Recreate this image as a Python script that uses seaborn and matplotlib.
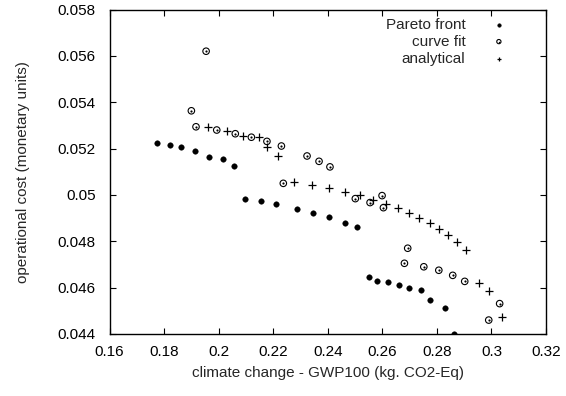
import numpy as np
import pandas as pd
import matplotlib
matplotlib.use('Agg')
import matplotlib.pyplot as plt
import seaborn as sns
from matplotlib.ticker import MultipleLocator, FuncFormatter
from matplotlib.legend_handler import HandlerTuple

# Pareto front points
pareto_x = [0.1774, 0.1822, 0.1861, 0.1915, 0.1966, 0.2017, 0.2056, 0.2096, 0.2157, 0.2210,
            0.2286, 0.2347, 0.2404, 0.2464, 0.2506, 0.2550, 0.2582, 0.2621, 0.2660, 0.2699,
            0.2743, 0.2775, 0.2828, 0.2863]
pareto_y = [0.05224, 0.05217, 0.05206, 0.05188, 0.05162, 0.05154, 0.05125, 0.04984, 0.04973, 0.04961,
            0.04941, 0.04923, 0.04906, 0.04880, 0.04860, 0.04645, 0.04630, 0.04624, 0.04610, 0.04599,
            0.04589, 0.04548, 0.04512, 0.04401]

# curve fit points
fit_x = [0.1954, 0.1900, 0.1917, 0.1993, 0.2061, 0.2120, 0.2177, 0.2230, 0.2237, 0.2324,
         0.2368, 0.2408, 0.2501, 0.2555, 0.2599, 0.2604, 0.2693, 0.2681, 0.2752, 0.2807,
         0.2858, 0.2902, 0.3030, 0.2990]
fit_y = [0.05620, 0.05363, 0.05294, 0.05280, 0.05264, 0.05249, 0.05231, 0.05211, 0.05050, 0.05168,
         0.05145, 0.05121, 0.04984, 0.04967, 0.04997, 0.04945, 0.04770, 0.04705, 0.04690, 0.04675,
         0.04653, 0.04627, 0.04531, 0.04460]

# analytical points
ana_x = [0.1961, 0.2030, 0.2090, 0.2147, 0.2178, 0.2218, 0.2275, 0.2343, 0.2406, 0.2464,
         0.2518, 0.2567, 0.2614, 0.2659, 0.2699, 0.2736, 0.2774, 0.2809, 0.2842, 0.2874,
         0.2906, 0.2953, 0.2992, 0.3040]
ana_y = [0.05294, 0.05277, 0.05256, 0.05249, 0.05206, 0.05168, 0.05056, 0.05042, 0.05030, 0.05013,
         0.04998, 0.04978, 0.04962, 0.04942, 0.04923, 0.04902, 0.04880, 0.04854, 0.04826, 0.04797,
         0.04761, 0.04621, 0.04587, 0.04472]

sns.set_style('ticks')
plt.rcParams['font.family'] = ['Liberation Sans', 'DejaVu Sans']
fs = 11

fig = plt.figure(figsize=(5.66, 3.96), dpi=100)
ax = fig.add_axes([0.1935, 0.1566, 0.7712, 0.8194])

pareto = pd.DataFrame({'x': pareto_x, 'y': pareto_y})
fit = pd.DataFrame({'x': fit_x, 'y': fit_y})
ana = pd.DataFrame({'x': ana_x, 'y': ana_y})

sns.scatterplot(data=pareto, x='x', y='y', ax=ax, marker='o', s=16, color='black',
                edgecolor='black', linewidth=0.3)
sns.scatterplot(data=fit, x='x', y='y', ax=ax, marker='o', s=22, facecolor='none',
                edgecolor='black', linewidth=0.8)
sns.scatterplot(data=fit, x='x', y='y', ax=ax, marker='o', s=2.5, color='black', linewidth=0)
sns.scatterplot(data=ana, x='x', y='y', ax=ax, marker='+', s=30, color='black', linewidth=0.9)

ax.set_xlim(0.16, 0.32)
ax.set_ylim(0.044, 0.058)
ax.xaxis.set_major_locator(MultipleLocator(0.02))
ax.yaxis.set_major_locator(MultipleLocator(0.002))
fmt = FuncFormatter(lambda v, p: f'{v:g}')
ax.xaxis.set_major_formatter(fmt)
ax.yaxis.set_major_formatter(fmt)
ax.tick_params(direction='in', length=4, width=0.8, top=True, right=True,
               labelsize=fs, colors='black')
ax.tick_params(axis='x', pad=8)
ax.tick_params(axis='y', pad=10)
for sp in ax.spines.values():
    sp.set_visible(True)
    sp.set_linewidth(1.0)
    sp.set_color('black')

ax.set_xlabel('climate change - GWP100 (kg. CO2-Eq)', fontsize=fs, labelpad=5)
ax.set_ylabel('operational cost (monetary units)', fontsize=fs, labelpad=20)

cols = ax.collections
handles = [cols[0], (cols[1], cols[2]), cols[3]]
ax.legend(handles, ['Pareto front', 'curve fit', 'analytical'], loc='upper right',
          bbox_to_anchor=(0.948, 0.994), markerfirst=False, frameon=False,
          handlelength=2.4, handletextpad=1.0, borderpad=0.4, borderaxespad=0,
          labelspacing=0.2, fontsize=fs, markerscale=0.65,
          handler_map={tuple: HandlerTuple(ndivide=1)})

fig.savefig('out.png', dpi=100)
